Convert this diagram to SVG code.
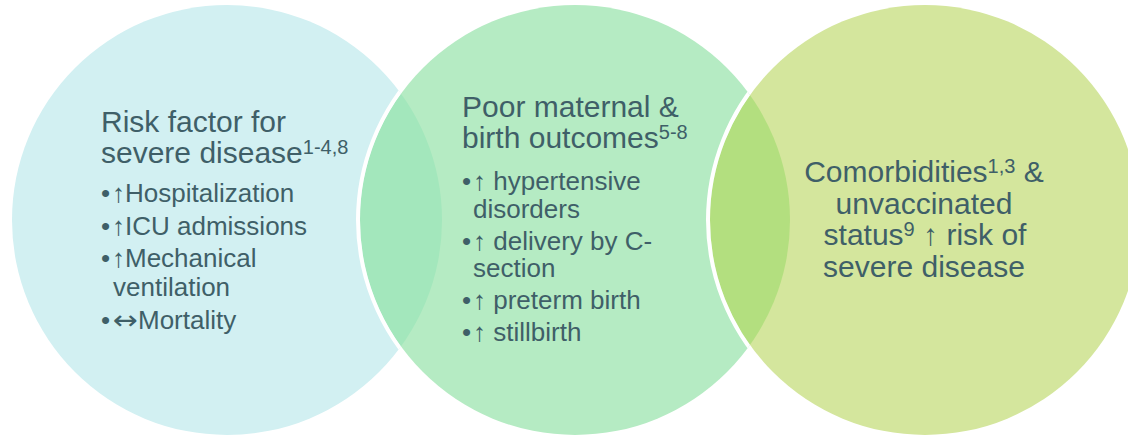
<svg xmlns="http://www.w3.org/2000/svg" width="1128" height="435" viewBox="0 0 1128 435">
  <style>
    text { font-family: "Liberation Sans", Arial, sans-serif; fill: #3F5F68; }
    .title { font-size: 30px; }
    .item { font-size: 26px; }
    .sup { font-size: 20px; }
    .wide-arrow { font-family: "DejaVu Sans", sans-serif; font-size: 26px; }
    .ring { fill: none; stroke: #FFFFFF; stroke-width: 4; }
  </style>
  <defs>
    <clipPath id="clipLeft"><circle cx="227" cy="220" r="215"/></clipPath>
    <clipPath id="clipMid"><circle cx="575" cy="220" r="215"/></clipPath>
  </defs>

  <!-- Left circle: risk factor -->
  <g id="node-risk">
    <circle cx="227" cy="220" r="215" fill="#D2F0F2"/>
    <text class="title" x="101" y="132">Risk factor for</text>
    <text class="title" x="101" y="163">severe disease<tspan class="sup" dy="-9">1-4,8</tspan></text>
    <text class="item" x="101" y="202">•</text>
    <text class="item" x="112" y="202">↑Hospitalization</text>
    <text class="item" x="101" y="235">•</text>
    <text class="item" x="112" y="235">↑ICU admissions</text>
    <text class="item" x="101" y="267">•</text>
    <text class="item" x="112" y="267">↑Mechanical</text>
    <text class="item" x="113" y="296">ventilation</text>
    <text class="item" x="101" y="329">•</text>
    <text class="wide-arrow" x="113" y="329" textLength="25" lengthAdjust="spacingAndGlyphs">↔</text>
    <text class="item" x="138" y="329">Mortality</text>
  </g>

  <!-- Middle circle: maternal and birth outcomes -->
  <g id="node-outcomes">
    <circle cx="575" cy="220" r="215" fill="#B5EBC3"/>
    <text class="title" x="462" y="117">Poor maternal &amp;</text>
    <text class="title" x="462" y="148">birth outcomes<tspan class="sup" dy="-9">5-8</tspan></text>
    <text class="item" x="462" y="190">•</text>
    <text class="item" x="473" y="190">↑ hypertensive</text>
    <text class="item" x="473" y="218">disorders</text>
    <text class="item" x="462" y="250">•</text>
    <text class="item" x="473" y="250">↑ delivery by C-</text>
    <text class="item" x="473" y="277">section</text>
    <text class="item" x="462" y="309">•</text>
    <text class="item" x="473" y="309">↑ preterm birth</text>
    <text class="item" x="462" y="341">•</text>
    <text class="item" x="473" y="341">↑ stillbirth</text>
  </g>

  <!-- Right circle: comorbidities -->
  <g id="node-comorbidities">
    <circle cx="925" cy="220" r="215" fill="#D4E69D"/>
    <g text-anchor="middle">
      <text class="title" x="924" y="182">Comorbidities<tspan class="sup" dy="-9">1,3</tspan><tspan dy="9"> &amp;</tspan></text>
      <text class="title" x="924" y="214">unvaccinated</text>
      <text class="title" x="925" y="245">status<tspan class="sup" dy="-9">9</tspan><tspan dy="9"> ↑ risk of</tspan></text>
      <text class="title" x="924" y="277">severe disease</text>
    </g>
  </g>

  <!-- Overlap lenses with white rims -->
  <g id="overlaps">
    <circle cx="575" cy="220" r="215" fill="#A3E7BC" clip-path="url(#clipLeft)"/>
    <circle cx="925" cy="220" r="215" fill="#B3DF7F" clip-path="url(#clipMid)"/>
    <circle class="ring" cx="575" cy="220" r="217" clip-path="url(#clipLeft)"/>
    <circle class="ring" cx="925" cy="220" r="217" clip-path="url(#clipMid)"/>
  </g>
</svg>
